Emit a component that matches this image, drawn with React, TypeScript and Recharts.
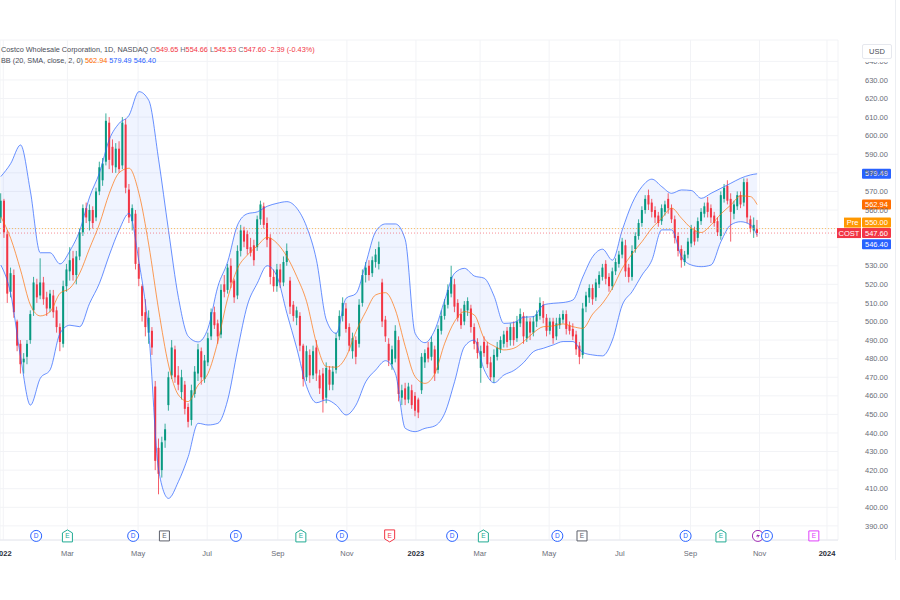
import {
  ComposedChart,
  Bar,
  Line,
  Area,
  XAxis,
  YAxis,
  CartesianGrid,
  ReferenceLine,
  ReferenceDot,
} from "recharts";

const FONT = "'Liberation Sans', Arial, sans-serif";
const UP = "#089981";
const DOWN = "#f23645";

// 2-day candles [open, high, low, close], oldest first
const h1_2022 = [
  [556, 569, 553, 565], [565, 566, 545, 548], [547, 549, 510, 515], [516, 529, 513, 526],
  [525, 528, 502, 505], [500, 501, 484, 487], [488, 490, 472, 477], [478, 483, 472, 480],
  [481, 490, 477, 488], [490, 506, 488, 504], [506, 524, 503, 521], [520, 523, 510, 513],
  [514, 534, 512, 521], [521, 524, 509, 512], [513, 516, 503, 507], [507, 517, 505, 515],
  [514, 517, 502, 505], [506, 508, 494, 497], [497, 499, 484, 489], [488, 522, 486, 519],
  [519, 531, 516, 528], [527, 540, 522, 533], [534, 538, 522, 525], [525, 538, 520, 535],
  [535, 550, 533, 548], [548, 563, 546, 561], [561, 564, 553, 556], [554, 563, 549, 560],
  [560, 562, 550, 553], [556, 572, 554, 570], [570, 586, 568, 583], [576, 588, 573, 585],
  [586, 612, 584, 608], [607, 610, 582, 587], [594, 598, 580, 584], [583, 596, 580, 593],
  [593, 597, 580, 582], [584, 610, 582, 607], [606, 609, 569, 572], [571, 574, 553, 556],
  [554, 563, 549, 561], [558, 560, 528, 531], [531, 540, 519, 523], [519, 520, 500, 503],
  [505, 512, 492, 497], [494, 506, 488, 502], [495, 497, 482, 486], [465, 468, 420, 425],
  [432, 437, 407, 418], [420, 438, 416, 435], [436, 445, 432, 442], [455, 473, 452, 470],
  [471, 490, 469, 486], [485, 487, 467, 470], [471, 476, 463, 466], [462, 474, 458, 470],
  [466, 468, 450, 453], [454, 456, 443, 446], [447, 466, 444, 463], [461, 476, 459, 473],
  [472, 488, 468, 485], [484, 486, 466, 470], [469, 482, 467, 479],
];

const h2_2022 = [
  [478, 494, 476, 491], [492, 507, 490, 505], [505, 508, 496, 498], [499, 501, 488, 492],
  [493, 520, 491, 517], [520, 525, 513, 516], [517, 531, 515, 529], [530, 534, 518, 521],
  [522, 523, 510, 513], [514, 541, 512, 538], [538, 552, 535, 549], [549, 551, 540, 543],
  [547, 549, 536, 539], [540, 545, 535, 537], [541, 544, 530, 533], [540, 557, 538, 555],
  [555, 565, 552, 563], [562, 564, 550, 552], [553, 556, 540, 544], [545, 547, 520, 524],
  [524, 528, 516, 519], [519, 531, 516, 528], [528, 531, 518, 521], [521, 535, 519, 532],
  [532, 542, 530, 538], [522, 524, 504, 508], [509, 511, 500, 503], [502, 508, 498, 506],
  [503, 505, 484, 487], [487, 488, 465, 469], [470, 487, 468, 484], [482, 485, 467, 471],
  [471, 487, 469, 484], [486, 490, 468, 472], [471, 474, 461, 464], [472, 475, 451, 458],
  [459, 478, 456, 475], [474, 476, 463, 466], [466, 476, 463, 473], [474, 494, 472, 491],
  [492, 506, 490, 503], [503, 513, 500, 510], [507, 510, 494, 496], [497, 499, 484, 487],
  [484, 494, 480, 491], [490, 492, 477, 481], [488, 512, 486, 509], [510, 528, 508, 525],
  [525, 532, 521, 529], [530, 533, 522, 525], [526, 535, 524, 533], [532, 539, 529, 536],
  [531, 543, 528, 540], [521, 523, 497, 500], [501, 503, 489, 492], [488, 491, 476, 479],
  [477, 487, 474, 485], [480, 498, 478, 495], [490, 492, 457, 461], [459, 466, 455, 463],
  [464, 467, 455, 458], [458, 467, 456, 465], [463, 466, 453, 455], [460, 462, 449, 452],
];

const h1_2023 = [
  [458, 459, 448, 451], [463, 483, 461, 481], [478, 485, 475, 483], [486, 489, 478, 480],
  [481, 492, 479, 489], [485, 487, 468, 472], [474, 498, 472, 496], [495, 506, 493, 503],
  [503, 512, 501, 509], [509, 520, 507, 517], [515, 530, 513, 524], [520, 523, 505, 508],
  [510, 512, 500, 502], [504, 507, 496, 498], [500, 511, 498, 509], [506, 513, 503, 511],
  [507, 509, 494, 497], [497, 499, 485, 488], [489, 491, 480, 483], [475, 487, 467, 484],
  [489, 492, 481, 483], [487, 489, 475, 477], [478, 481, 468, 470], [470, 485, 467, 482],
  [481, 489, 479, 486], [485, 492, 483, 490], [488, 495, 486, 493], [495, 497, 486, 489],
  [490, 499, 487, 497], [497, 500, 487, 490], [491, 503, 489, 500], [499, 507, 497, 504],
  [503, 505, 488, 492], [491, 503, 489, 500], [500, 502, 490, 494], [494, 503, 492, 500],
  [500, 506, 497, 504], [503, 513, 501, 510], [509, 511, 499, 502], [502, 504, 492, 495],
  [495, 502, 493, 500], [500, 502, 488, 491], [492, 502, 490, 499], [498, 504, 496, 502],
  [501, 506, 499, 504], [504, 506, 493, 496], [498, 500, 493, 495], [496, 499, 490, 492],
  [493, 495, 482, 485], [487, 489, 477, 481], [482, 510, 480, 507], [508, 516, 505, 514],
  [513, 520, 510, 518], [518, 520, 509, 512], [513, 523, 511, 521], [520, 527, 518, 525],
  [524, 531, 522, 529], [531, 533, 520, 523], [524, 526, 516, 519], [519, 529, 517, 527],
  [527, 534, 525, 532], [531, 538, 529, 536],
];

const h2_2023 = [
  [536, 545, 534, 543], [541, 544, 524, 527], [529, 531, 521, 524], [524, 541, 522, 538],
  [539, 548, 537, 546], [546, 555, 544, 553], [553, 562, 551, 560], [560, 568, 558, 566],
  [568, 571, 560, 563], [564, 566, 556, 559], [560, 562, 553, 556], [557, 559, 551, 553],
  [554, 563, 552, 561], [559, 565, 557, 563], [566, 569, 558, 561], [561, 563, 553, 555],
  [555, 557, 542, 545], [546, 548, 535, 538], [539, 541, 529, 533], [532, 538, 530, 536],
  [536, 545, 534, 543], [542, 552, 540, 550], [549, 551, 541, 543], [545, 556, 543, 554],
  [554, 561, 552, 559], [558, 564, 556, 562], [564, 567, 556, 559], [561, 563, 553, 556],
  [557, 559, 551, 553], [554, 556, 546, 548], [546, 570, 544, 568], [566, 574, 564, 572],
  [573, 576, 563, 565], [566, 569, 543, 559], [558, 565, 555, 563], [562, 570, 560, 568],
  [568, 570, 561, 563], [564, 577, 562, 575], [575, 577, 553, 556], [555, 557, 548, 550],
  [549, 556, 545, 552], [549.65, 554.66, 545.53, 547.6],
];

// Bollinger Bands (20, 2) read every third candle, last value = latest bar
const upperBand = [
  578, 585, 595, 570, 537, 537, 531, 538, 549, 567, 580, 598, 606.7, 611, 623.7, 619, 587, 549, 513, 492,
  489, 496.3, 518.8, 532.2, 552, 558, 559, 562, 563.6, 564.5, 561, 551, 533, 500.8, 493.6, 512.5, 515, 531.3, 548.4,
  552.5, 552.5, 544, 493.6, 488.6, 495.5, 511.6, 526, 528.6, 524.5, 523.3, 513.7, 499, 499.4, 502.3, 502.6, 508.9, 509.8, 510.2,
  511.6, 524, 534.9, 538.9, 533, 549.3, 563.6, 572.6, 576.6, 572.6, 569, 570.8, 570.5, 566.3, 569, 571.7, 574.4, 577.1, 578.9,
  579.49,
];
const basisBand = [
  556.4, 544.8, 527.7, 508.9, 503, 505.3, 515.2, 517.9, 526, 539.4, 552.5, 569, 580.1, 582.5, 569, 541.2, 506.2, 476.6, 460.5, 456.9,
  465.8, 472, 489.2, 512.5, 528.6, 535.8, 540.7, 545.3, 542.1, 534.9, 524.2, 510.7, 488.3, 475.7, 475.4, 481, 494.5, 505.3, 514.3,
  515.5, 506.2, 486.5, 470.3, 466.7, 472, 488.3, 500, 505.3, 503.5, 490.9, 486.8, 484.7, 485.6, 489.2, 494, 497.2, 497.6, 498.7,
  497.2, 496.3, 504, 509.8, 517.9, 528.6, 536.4, 543, 550.2, 555.6, 561, 555.6, 550.2, 547.9, 552, 557.9, 562.7, 567.6, 567.2,
  562.94,
];
const lowerBand = [
  530.4, 515, 481, 455, 469.4, 474, 493.6, 498, 497.2, 509.8, 520.6, 535.8, 549.3, 558.2, 532.2, 493.6, 420, 404.8, 413.8, 427.3,
  445.2, 444.3, 445.2, 457.8, 484.7, 508.9, 520.6, 530, 524.2, 504.4, 485.6, 465, 456.3, 457.8, 455, 449.7, 455, 467.6, 473.9,
  478.9, 472, 442.5, 440.7, 442.5, 443.8, 450.6, 467.6, 486.5, 490, 474, 467, 471.2, 473.6, 477.9, 483.8, 485.6, 487.4, 489.2,
  489.2, 483.3, 482, 481.5, 490, 508.9, 516.1, 525, 533, 549.3, 549.3, 534.9, 530.4, 529.5, 530.4, 543, 552, 553.7, 552,
  546.4,
];

// time axis (trading-day index)
const tickDays = [2, 41, 84, 126, 169, 211, 253, 292, 334, 377, 420, 462, 503];
const tickLabels = ["2022", "Mar", "May", "Jul", "Sep", "Nov", "2023", "Mar", "May", "Jul", "Sep", "Nov", "2024"];
const priceTicks = [390, 400, 410, 420, 430, 440, 450, 460, 470, 480, 490, 500, 510, 520, 530, 540, 550, 560, 570, 580, 590, 600, 610, 620, 630, 640];
// tick labels hidden behind the price tags
const coveredTicks = [540, 550];

// dividends / earnings / splits markers
const eventDays = [22, 41, 81, 100, 143.5, 183, 208, 237, 275, 294, 339, 354, 417, 438.5, 461, 466.5, 495];
const eventKinds = ["D", "Eup", "D", "E", "D", "Eup", "D", "Edown", "D", "Eup", "D", "E", "D", "Eup", "S", "D", "Efut"];

const candles = [...h1_2022, ...h2_2022, ...h1_2023, ...h2_2023];
const rows = candles.map(([o, h, l, c], k) => {
  const j = k % 3 === 0 ? k / 3 : k === candles.length - 1 ? upperBand.length - 1 : -1;
  const has = j >= 0 && j < upperBand.length;
  return {
    day: 2 * k + 0.5,
    o, h, l, c,
    up: has ? upperBand[j] : null,
    mid: has ? basisBand[j] : null,
    lo: has ? lowerBand[j] : null,
    band: has ? [lowerBand[j], upperBand[j]] : null,
  };
});

function Candle(props: any) {
  const { x, y, width, height, payload } = props;
  if (!payload || payload.h == null) return null;
  const top = Math.min(y, y + height);
  const bot = Math.max(y, y + height);
  const { o, h, l, c } = payload;
  const span = h - l || 1;
  const py = (v: number) => top + ((h - v) / span) * (bot - top);
  const cx = x + width / 2;
  const color = c >= o ? UP : DOWN;
  const bt = py(Math.max(o, c));
  const bb = py(Math.min(o, c));
  return (
    <g>
      <line x1={cx} x2={cx} y1={top} y2={bot} stroke={color} strokeWidth={0.8} />
      <rect x={cx - 1} y={bt} width={2} height={Math.max(bb - bt, 0.8)} fill={color} />
    </g>
  );
}

function XTick({ x, y, payload }: any) {
  const label = tickLabels[tickDays.indexOf(payload.value)];
  const year = /^\d{4}$/.test(label);
  return (
    <text x={x} y={y} dy={14} textAnchor="middle" fontFamily={FONT} fontSize={7.5}
      fontWeight={year ? 700 : 400} fill={year ? "#2a2e39" : "#6a6d78"}>
      {label}
    </text>
  );
}

function YTick({ x, y, payload }: any) {
  if (coveredTicks.includes(payload.value)) return null;
  return (
    <text x={x} y={y} dy="0.35em" textAnchor="start" fontFamily={FONT} fontSize={7.5} fill="#6a6d78">
      {payload.value.toFixed(2)}
    </text>
  );
}

function PriceTag({ viewBox, text, bg, shift = 0, pre, preBg }: any) {
  if (!viewBox) return null;
  const ax = viewBox.x + viewBox.width;
  const y = viewBox.y + shift;
  const preW = pre ? (pre.length > 3 ? 24 : 17) : 0;
  return (
    <g fontFamily={FONT} fontSize={7.5}>
      {pre && (
        <g>
          <rect x={ax + 23 - preW} y={y - 5} width={preW} height={10} fill={preBg} />
          <text x={ax + 23 - preW / 2} y={y} dy="0.35em" textAnchor="middle" fill="#fff">{pre}</text>
        </g>
      )}
      <rect x={ax + 24} y={y - 5} width={29} height={10} rx={1} fill={bg} />
      <text x={ax + 38.5} y={y} dy="0.35em" textAnchor="middle" fill="#fff">{text}</text>
    </g>
  );
}

function EventMark({ cx, cy, kind }: any) {
  if (cx == null) return null;
  const letter = (col: string) => (
    <text x={cx} y={cy} dy="0.36em" textAnchor="middle" fontFamily={FONT} fontSize={6.5} fill={col}>
      {kind === "D" ? "D" : "E"}
    </text>
  );
  if (kind === "D") {
    return (
      <g>
        <circle cx={cx} cy={cy} r={5.5} fill="#fff" stroke="#2962ff" strokeWidth={1} />
        {letter("#2962ff")}
      </g>
    );
  }
  if (kind === "S") {
    return (
      <g>
        <circle cx={cx} cy={cy} r={5.5} fill="#fff" stroke="#9c27b0" strokeWidth={1} />
        <path d={`M${cx + 1} ${cy - 3.5} L${cx - 2} ${cy + 0.5} L${cx + 0.5} ${cy + 0.5} L${cx - 1} ${cy + 3.5} L${cx + 2} ${cy - 0.8} L${cx - 0.5} ${cy - 0.8} Z`} fill="#9c27b0" />
      </g>
    );
  }
  const col = kind === "Eup" ? "#22ab94" : kind === "Edown" ? "#f23645" : kind === "Efut" ? "#e040fb" : "#5d606b";
  let d = `M${cx - 5} ${cy - 5} H${cx + 5} V${cy + 5} H${cx - 5} Z`;
  if (kind === "Eup") d = `M${cx - 5} ${cy + 6} H${cx + 5} V${cy - 3} L${cx} ${cy - 6} L${cx - 5} ${cy - 3} Z`;
  if (kind === "Edown") d = `M${cx - 5} ${cy - 6} H${cx + 5} V${cy + 3} L${cx} ${cy + 6} L${cx - 5} ${cy + 3} Z`;
  return (
    <g>
      <path d={d} fill="#fff" stroke={col} strokeWidth={1} strokeLinejoin="round" />
      {letter(col)}
    </g>
  );
}

const grey = { color: "#6a6d78" };
const red = { color: DOWN };

export default function App() {
  return (
    <div style={{ position: "absolute", left: 0, top: 0, width: 900, height: 600, background: "#fff", overflow: "hidden", fontFamily: FONT }}>
      <ComposedChart width={900} height={600} data={rows} margin={{ top: 40, right: 0, bottom: 0, left: 0 }}>
        <CartesianGrid stroke="#f2f3f6" strokeWidth={1} />
        <XAxis
          type="number"
          dataKey="day"
          domain={[0, 509.7]}
          allowDataOverflow
          ticks={tickDays}
          interval={0}
          height={60}
          tickLine={false}
          tickSize={0}
          axisLine={{ stroke: "#e6e8ee" }}
          tick={<XTick />}
        />
        <YAxis
          orientation="right"
          domain={[382.4, 651.5]}
          allowDataOverflow
          ticks={priceTicks}
          interval={0}
          width={62}
          axisLine={false}
          tickLine={false}
          tickSize={0}
          tickMargin={27}
          tick={<YTick />}
        />
        <Area dataKey="band" type="monotone" connectNulls stroke="none" fill="#2962ff" fillOpacity={0.07} isAnimationActive={false} />
        <Line dataKey="up" type="monotone" connectNulls stroke="#2962ff" strokeOpacity={0.7} strokeWidth={1} dot={false} isAnimationActive={false} />
        <Line dataKey="lo" type="monotone" connectNulls stroke="#2962ff" strokeOpacity={0.7} strokeWidth={1} dot={false} isAnimationActive={false} />
        <Line dataKey="mid" type="monotone" connectNulls stroke="#ff6d00" strokeOpacity={0.75} strokeWidth={0.9} dot={false} isAnimationActive={false} />
        <Bar dataKey={(d: any) => [d.l, d.h]} barSize={3} shape={<Candle />} isAnimationActive={false} />
        <ReferenceLine y={550} stroke="#ff9800" strokeOpacity={0.75} strokeWidth={0.8} strokeDasharray="1 2" label={<PriceTag text="550.00" bg="#ff9800" shift={-6} pre="Pre" preBg="#ff9800" />} />
        <ReferenceLine y={547.6} stroke={DOWN} strokeOpacity={0.7} strokeWidth={0.8} strokeDasharray="1 2" label={<PriceTag text="547.60" bg={DOWN} pre="COST" preBg={DOWN} />} />
        <ReferenceLine y={579.49} stroke="none" label={<PriceTag text="579.49" bg="#2962ff" />} />
        <ReferenceLine y={562.94} stroke="none" label={<PriceTag text="562.94" bg="#ff6d00" />} />
        <ReferenceLine y={546.4} stroke="none" label={<PriceTag text="546.40" bg="#2962ff" shift={9} />} />
        {eventDays.map((d, i) => (
          <ReferenceDot key={i} x={d} y={384.6} r={0} shape={(p: any) => <EventMark {...p} kind={eventKinds[i]} />} />
        ))}
      </ComposedChart>

      <div style={{ position: "absolute", left: 1, top: 44, fontSize: 7.3, lineHeight: "11px", color: "#4a4d57", whiteSpace: "nowrap" }}>
        <div>
          Costco Wholesale Corporation, 1D, NASDAQ{" "}
          <span style={grey}>O</span><span style={red}>549.65</span>{" "}
          <span style={grey}>H</span><span style={red}>554.66</span>{" "}
          <span style={grey}>L</span><span style={red}>545.53</span>{" "}
          <span style={grey}>C</span><span style={red}>547.60</span>{" "}
          <span style={red}>-2.39 (-0.43%)</span>
        </div>
        <div>
          BB (20, SMA, close, 2, 0){" "}
          <span style={{ color: "#ff6d00" }}>562.94</span>{" "}
          <span style={{ color: "#2962ff" }}>579.49</span>{" "}
          <span style={{ color: "#2962ff" }}>546.40</span>
        </div>
      </div>

      <div style={{ position: "absolute", left: 862, top: 44, width: 30, height: 15, background: "#fff", border: "1px solid #e6e8ee", borderRadius: 2, fontSize: 7.5, lineHeight: "13px", textAlign: "center", color: "#4a4d57", boxSizing: "border-box" }}>
        USD
      </div>
      <div style={{ position: "absolute", left: 840, top: 59, width: 54, height: 2.5, background: "#fff" }} />
      <div style={{ position: "absolute", left: 895, top: 0, width: 1, height: 560, background: "#eceef2" }} />
    </div>
  );
}
